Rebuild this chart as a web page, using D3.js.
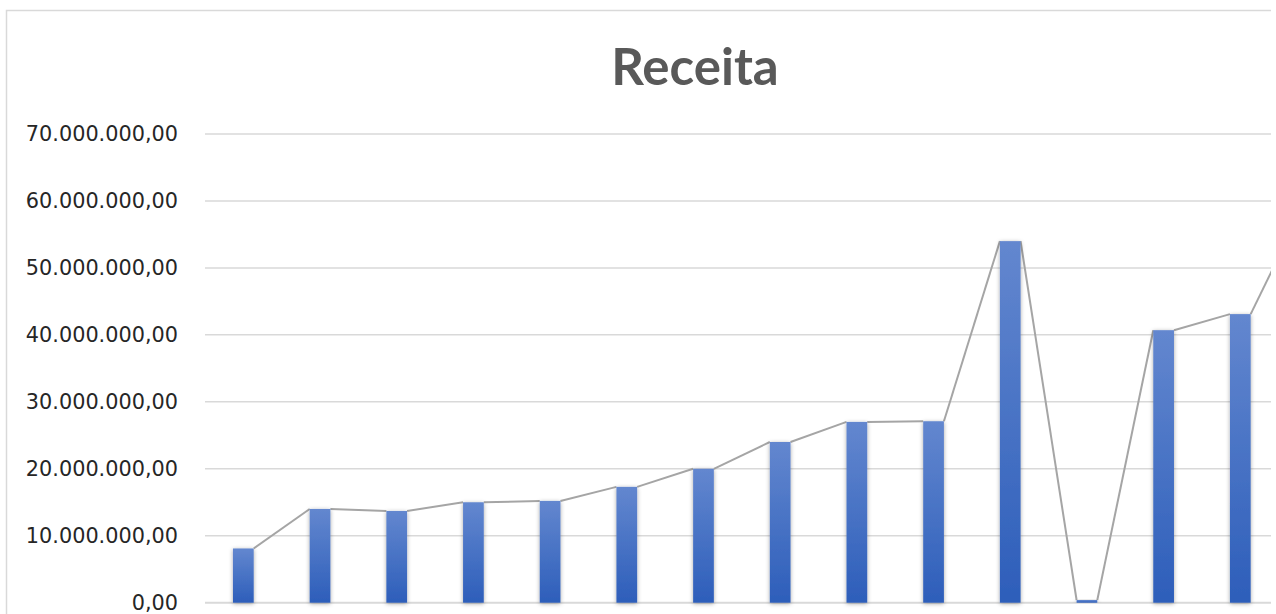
<!DOCTYPE html>
<html>
<head>
<meta charset="utf-8">
<script src="https://cdn.jsdelivr.net/npm/d3@7/dist/d3.min.js"></script>
<style>
  html, body { margin: 0; padding: 0; background: #fff; }
  svg { display: block; }
</style>
</head>
<body>
<svg id="chart" width="1276" height="614"></svg>
<script>
// ---- Data ----
const categories = ["1", "2", "3", "4", "5", "6", "7", "8", "9", "10", "11", "12", "13", "14", "15"];
const receita = [8100000, 14000000, 13700000, 15000000, 15200000, 17300000, 20000000, 24000000,
                 27000000, 27100000, 54000000, 400000, 40700000, 43100000, 60200000];
const yTicks = [0, 10000000, 20000000, 30000000, 40000000, 50000000, 60000000, 70000000];
const title = "Receita";

// ---- Setup ----
const W = 1276, H = 614;
const svg = d3.select("#chart");
const defs = svg.append("defs");

const grad = defs.append("linearGradient")
  .attr("id", "barGrad").attr("x1", 0).attr("y1", 0).attr("x2", 0).attr("y2", 1);
grad.append("stop").attr("offset", "0%").attr("stop-color", "#6387cf");
grad.append("stop").attr("offset", "100%").attr("stop-color", "#2d5eba");

const shadow = defs.append("filter").attr("id", "shadow")
  .attr("x", "-50%").attr("y", "-10%").attr("width", "200%").attr("height", "120%");
shadow.append("feDropShadow").attr("dx", 0).attr("dy", 1).attr("stdDeviation", 2)
  .attr("flood-color", "#000").attr("flood-opacity", 0.35);

defs.append("clipPath").attr("id", "clipArea")
  .append("rect").attr("x", 0).attr("y", 0).attr("width", 1271).attr("height", H);

const root = svg.append("g").attr("clip-path", "url(#clipArea)");

// outer chart border
root.append("rect")
  .attr("x", 6.5).attr("y", 10.5).attr("width", 1400).attr("height", 800)
  .attr("fill", "none").attr("stroke", "#d9d9d9").attr("stroke-width", 1.5);

// title
root.append("text")
  .attr("x", 695).attr("y", 85)
  .attr("text-anchor", "middle")
  .attr("font-family", "Lato, 'Open Sans', sans-serif")
  .attr("font-weight", 700)
  .attr("font-size", 51)
  .attr("fill", "#595959")
  .text(title);

// scales
const plotLeft = 205, step = 76.69;
const x = d3.scaleBand()
  .domain(categories)
  .range([plotLeft, plotLeft + step * categories.length])
  .paddingInner(0.73).paddingOuter(0.365);

const y = d3.scaleLinear().domain([0, 70000000]).range([602.7, 134]);

const locale = d3.formatLocale({ decimal: ",", thousands: ".", grouping: [3], currency: ["R$", ""] });
const fmt = locale.format(",.2f");

// gridlines
root.append("g").selectAll("line")
  .data(yTicks).join("line")
  .attr("x1", plotLeft).attr("x2", 1400)
  .attr("y1", d => y(d)).attr("y2", d => y(d))
  .attr("stroke", "#d9d9d9")
  .attr("stroke-width", d => d === 0 ? 2 : 1.5);

// y axis labels via d3 axis
const yAxis = d3.axisLeft(y).tickValues(yTicks).tickFormat(fmt).tickSize(0).tickPadding(0);
const ag = root.append("g").attr("transform", "translate(178,0)").call(yAxis);
ag.select(".domain").remove();
ag.selectAll("text")
  .attr("font-family", "'DejaVu Sans', sans-serif")
  .attr("font-size", 20.8)
  .attr("fill", "#262626");

// series lines: from top-right corner of each bar to top-left corner of the next
const segs = d3.pairs(receita.map((v, i) => ({ c: categories[i], v })));
root.append("g").selectAll("line")
  .data(segs).join("line")
  .attr("x1", d => x(d[0].c) + x.bandwidth())
  .attr("y1", d => y(d[0].v))
  .attr("x2", d => x(d[1].c))
  .attr("y2", d => y(d[1].v))
  .attr("stroke", "#a5a5a5")
  .attr("stroke-width", 2);

// bars
root.append("g").selectAll("rect")
  .data(receita).join("rect")
  .attr("x", (d, i) => x(categories[i]))
  .attr("width", x.bandwidth())
  .attr("y", d => y(d))
  .attr("height", d => y(0) - y(d))
  .attr("fill", "url(#barGrad)")
  .attr("filter", "url(#shadow)");
</script>
</body>
</html>
